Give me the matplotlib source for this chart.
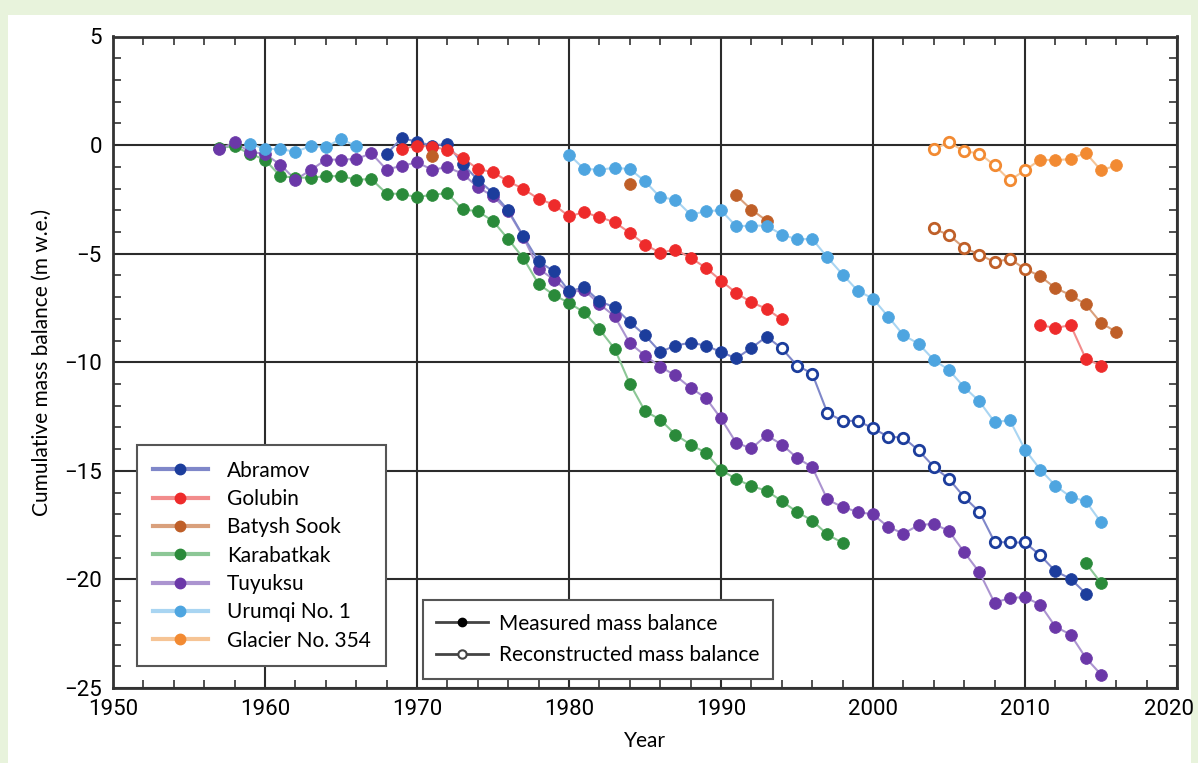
import numpy as np
import matplotlib.pyplot as plt
from matplotlib.lines import Line2D
from matplotlib.patches import Rectangle
from matplotlib.ticker import MultipleLocator, FuncFormatter

nan = np.nan

# ---- data (cumulative mass balance, m w.e.) ----
abramov_years = list(range(1968, 2015))
abramov_vals = [-0.41, 0.33, 0.15, -0.02, 0.05, -0.87, -1.6, -2.2, -3.0, -4.2,
                -5.35, -5.81, -6.73, -6.55, -7.19, -7.47, -8.15, -8.76, -9.53, -9.23,
                -9.1, -9.23, -9.53, -9.82, -9.34, -8.82, -9.36, -10.15, -10.52, -12.33,
                -12.7, -12.7, -13.04, -13.43, -13.47, -14.06, -14.81, -15.38, -16.21, -16.89,
                -18.27, -18.3, -18.3, -18.89, -19.62, -19.97, -20.65]
abramov_rec = list(range(1994, 2012))

golubin_years = list(range(1969, 1995)) + [2000] + list(range(2011, 2016))
golubin_vals = [-0.18, -0.02, -0.08, -0.21, -0.59, -1.1, -1.25, -1.67, -2.02, -2.48,
                -2.74, -3.28, -3.09, -3.32, -3.55, -4.04, -4.58, -4.96, -4.81, -5.19,
                -5.65, -6.24, -6.81, -7.24, -7.54, -8.03,
                nan,
                -8.29, -8.42, -8.29, -9.84, -10.15]
golubin_rec = []

batysh_years = [1971, 1972, 1984, 1985, 1991, 1992, 1993, 2000] + list(range(2004, 2017))
batysh_vals = [-0.5, nan, -1.79, nan, -2.31, -2.97, -3.48, nan,
               -3.84, -4.15, -4.73, -5.04, -5.39, -5.24, -5.7,
               -6.04, -6.58, -6.91, -7.34, -8.19, -8.6]
batysh_rec = list(range(2004, 2011))

karabatkak_years = list(range(1957, 1999)) + [2005, 2014, 2015]
karabatkak_vals = [-0.13, -0.05, -0.4, -0.67, -1.43, -1.5, -1.5, -1.43, -1.43, -1.59,
                   -1.57, -2.23, -2.25, -2.4, -2.28, -2.22, -2.96, -3.05, -3.5, -4.33,
                   -5.21, -6.4, -6.9, -7.27, -7.7, -8.48, -9.38, -10.98, -12.25, -12.64,
                   -13.33, -13.79, -14.17, -14.97, -15.37, -15.71, -15.91, -16.4, -16.89, -17.29,
                   -17.93, -18.32,
                   nan, -19.24, -20.16]
karabatkak_rec = []

tuyuksu_years = list(range(1957, 2016))
tuyuksu_vals = [-0.2, 0.13, -0.31, -0.41, -0.9, -1.59, -1.16, -0.67, -0.67, -0.64,
                -0.38, -1.13, -0.95, -0.8, -1.13, -1.02, -1.32, -1.94, -2.35, -3.05,
                -4.24, -5.69, -6.19, -6.78, -6.68, -7.32, -7.88, -9.12, -9.69, -10.2,
                -10.61, -11.18, -11.64, -12.59, -13.71, -13.97, -13.36, -13.79, -14.4, -14.83,
                -16.32, -16.67, -16.89, -17.01, -17.58, -17.89, -17.5, -17.44, -17.77, -18.75,
                -19.67, -21.08, -20.85, -20.82, -21.16, -22.18, -22.54, -23.61, -24.38]
tuyuksu_rec = []

urumqi_years = list(range(1959, 1967)) + [1970] + list(range(1980, 2016))
urumqi_vals = [0.07, -0.18, -0.18, -0.31, -0.05, -0.08, 0.28, -0.05,
               nan,
               -0.44, -1.1, -1.13, -1.05, -1.1, -1.67, -2.4, -2.51, -3.2, -3.05,
               -3.0, -3.74, -3.71, -3.71, -4.12, -4.34, -4.32, -5.17, -5.96, -6.71,
               -7.07, -7.9, -8.75, -9.15, -9.89, -10.36, -11.15, -11.8, -12.76, -12.67,
               -14.02, -14.94, -15.68, -16.2, -16.4, -17.37]
urumqi_rec = []

g354_years = list(range(2004, 2017))
g354_vals = [-0.18, 0.13, -0.28, -0.39, -0.93, -1.62, -1.16,
             -0.67, -0.7, -0.64, -0.36, -1.16, -0.94]
g354_rec = list(range(2004, 2011))

names = ["Abramov", "Golubin", "Batysh Sook", "Karabatkak", "Tuyuksu",
         "Urumqi No. 1", "Glacier No. 354"]
dark = ["#1c3d9c", "#ee2b2b", "#bf5f28", "#2a8a3a", "#6b38a8", "#4ea5e0", "#f28a32"]
light = ["#7f87c9", "#f28c8c", "#d9a07c", "#8cc796", "#ab94d0", "#a9d5f2", "#f6c495"]

series = [(abramov_years, abramov_vals, abramov_rec),
          (golubin_years, golubin_vals, golubin_rec),
          (batysh_years, batysh_vals, batysh_rec),
          (karabatkak_years, karabatkak_vals, karabatkak_rec),
          (tuyuksu_years, tuyuksu_vals, tuyuksu_rec),
          (urumqi_years, urumqi_vals, urumqi_rec),
          (g354_years, g354_vals, g354_rec)]

W, H = 1198, 763
fig = plt.figure(figsize=(W / 100, H / 100), dpi=100, facecolor="#e8f3dc")
fig.patches.append(Rectangle((8 / W, 0), (1191 - 8) / W, 1 - 15 / H,
                             transform=fig.transFigure, facecolor="white",
                             edgecolor="none", zorder=-10))

ax = fig.add_axes([113 / W, 1 - 688 / H, (1177 - 113) / W, (688 - 36.5) / H])
ax.set_facecolor("white")

tick_font = ["Roboto", "DejaVu Sans"]
text_font = ["Lato", "DejaVu Sans"]

# draw series: light line, filled dots for measured, open dots for reconstructed
order = [3, 4, 0, 1, 2, 5, 6]
for i in order:
    yrs, vals, rec = series[i]
    yrs = np.array(yrs)
    vals = np.array(vals, dtype=float)
    is_rec = np.isin(yrs, rec)
    ax.plot(yrs, vals, "-", color=light[i], lw=1.5, zorder=3)
    m = ~is_rec & ~np.isnan(vals)
    ax.plot(yrs[m], vals[m], "o", ls="none", ms=8.5, mfc=dark[i], mec=dark[i],
            mew=0.5, zorder=4)
    r = is_rec & ~np.isnan(vals)
    ax.plot(yrs[r], vals[r], "o", ls="none", ms=7.5, mfc="white", mec=dark[i],
            mew=2, zorder=4)

x_min, x_max = 1950, 2020
ax.set_xlim(x_min, x_max)
ax.set_ylim(-25, 5)
ax.xaxis.set_major_locator(MultipleLocator(10))
ax.xaxis.set_minor_locator(MultipleLocator(2))
ax.yaxis.set_minor_locator(MultipleLocator(1))
# the last year label is drawn separately, nudged left to stay in the picture
ax.xaxis.set_major_formatter(FuncFormatter(lambda v, p: "" if v >= x_max else f"{v:.0f}"))
ax.grid(True, which="major", color="#2b2b2b", lw=1.5, zorder=1)
ax.tick_params(which="both", direction="in", top=True, right=True, color="#333333")
ax.tick_params(which="major", length=0, pad=8, labelsize=16)
ax.tick_params(which="minor", length=6, width=1.2)
for s in ax.spines.values():
    s.set_linewidth(2)
    s.set_color("#333333")

ax.set_yticks([5, 0, -5, -10, -15, -20, -25])
ax.set_yticklabels(["5", "0", "\u22125", "\u221210", "\u221215", "\u221220", "\u221225"])
for lab in ax.get_xticklabels() + ax.get_yticklabels():
    lab.set_family(tick_font)

ax.annotate(f"{x_max}", xy=(x_max, 0), xycoords=ax.get_xaxis_transform(),
            xytext=(-6, -8), textcoords="offset points", ha="center", va="top",
            fontsize=16, family=tick_font, annotation_clip=False)

ax.set_xlabel("Year", fontsize=15, family=text_font, labelpad=8)
ax.set_ylabel("Cumulative mass balance (m w.e.)", fontsize=15, family=text_font,
              labelpad=9)

# legend of glaciers
handles = [Line2D([0], [0], color=light[i], lw=3, marker="o", ms=7.5,
                  mfc=dark[i], mec=dark[i]) for i in range(len(names))]
leg1 = ax.legend(handles, names, loc="upper left", bbox_to_anchor=(0.0226, 0.373),
                 prop={"family": text_font, "size": 15}, frameon=True, fancybox=False,
                 edgecolor="#555555", framealpha=1, borderaxespad=0,
                 handlelength=2.65, handletextpad=0.9, labelspacing=0.4,
                 borderpad=0.75)
leg1.get_frame().set_linewidth(1.5)
leg1.set_zorder(10)
ax.add_artist(leg1)

# legend of data type
h2 = [Line2D([0], [0], color="#444444", lw=2, marker="o", ms=6,
             mfc="black", mec="black"),
      Line2D([0], [0], color="#444444", lw=2, marker="o", ms=6,
             mfc="white", mec="#444444", mew=1.5)]
leg2 = ax.legend(h2, ["Measured mass balance", "Reconstructed mass balance"],
                 loc="upper left", bbox_to_anchor=(0.291, 0.135),
                 prop={"family": text_font, "size": 15}, frameon=True, fancybox=False,
                 edgecolor="#555555", framealpha=1, borderaxespad=0,
                 handlelength=2.5, handletextpad=0.5, labelspacing=0.55,
                 borderpad=0.65)
leg2.get_frame().set_linewidth(1.5)
leg2.set_zorder(10)

fig.savefig("out.png", dpi=100, facecolor=fig.get_facecolor())
